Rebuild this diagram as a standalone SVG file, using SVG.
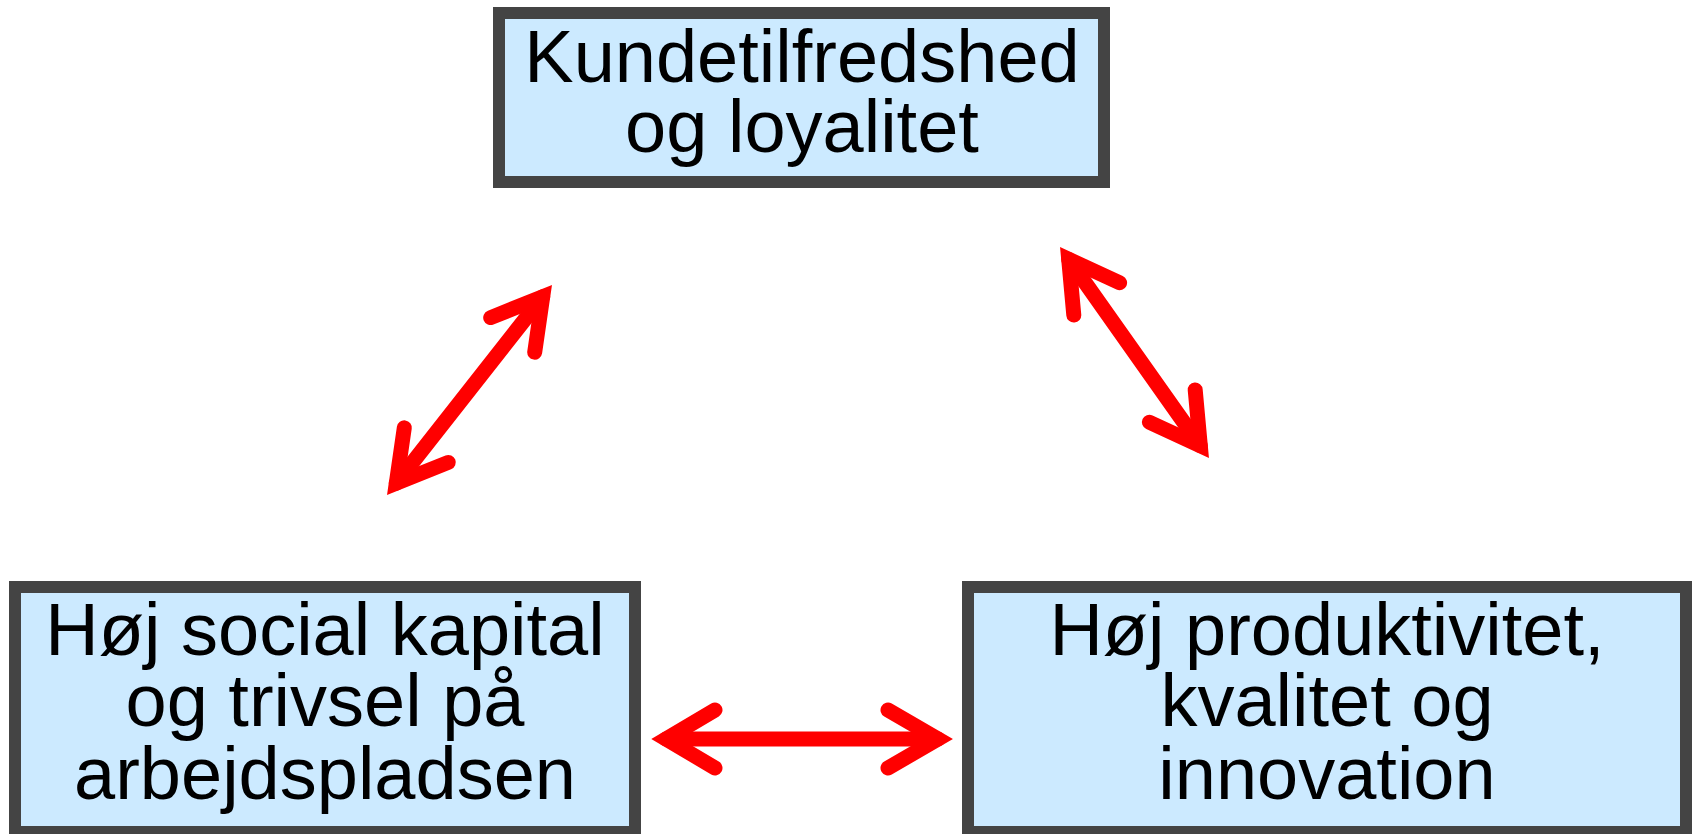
<svg xmlns="http://www.w3.org/2000/svg" width="1694" height="834" viewBox="0 0 1694 834">
<style>
.box{fill:#cceaff;stroke:#444444;stroke-width:12}
.lbl{font-family:"Liberation Sans",Arial,sans-serif;font-size:74px;fill:#000;text-anchor:middle}
.arr{fill:none;stroke:#ff0000;stroke-width:15;stroke-linecap:round;stroke-linejoin:miter;stroke-miterlimit:10}
</style>
<rect width="1694" height="834" fill="#ffffff"/>
<g id="node-kunde">
<rect class="box" x="499" y="13" width="605" height="169"/>
<text class="lbl" x="802" y="82">Kundetilfredshed</text>
<text class="lbl" x="802" y="152">og loyalitet</text>
</g>
<g id="node-social">
<rect class="box" x="15" y="587" width="620" height="245"/>
<text class="lbl" x="325" y="655">Høj social kapital</text>
<text class="lbl" x="325" y="726">og trivsel på</text>
<text class="lbl" x="325" y="799">arbejdspladsen</text>
</g>
<g id="node-produktivitet">
<rect class="box" x="968" y="587" width="718" height="245"/>
<text class="lbl" x="1327" y="655">Høj produktivitet,</text>
<text class="lbl" x="1327" y="726">kvalitet og</text>
<text class="lbl" x="1327" y="799">innovation</text>
</g>
<g id="connectors">
<line class="arr" x1="396.3" y1="483.2" x2="542.7" y2="296.8"/>
<polyline class="arr" points="490.7,317.6 542.7,296.8 534.7,352.2"/>
<polyline class="arr" points="448.3,462.4 396.3,483.2 404.3,427.8"/>
<line class="arr" x1="1068.7" y1="259.3" x2="1200.3" y2="445.7"/>
<polyline class="arr" points="1073.8,315.1 1068.7,259.3 1119.6,282.8"/>
<polyline class="arr" points="1195.2,389.9 1200.3,445.7 1149.4,422.2"/>
<line class="arr" x1="666" y1="739" x2="938" y2="739"/>
<polyline class="arr" points="715,710 666,739 715,768"/>
<polyline class="arr" points="888,710 938,739 888,768"/>
</g>
</svg>
